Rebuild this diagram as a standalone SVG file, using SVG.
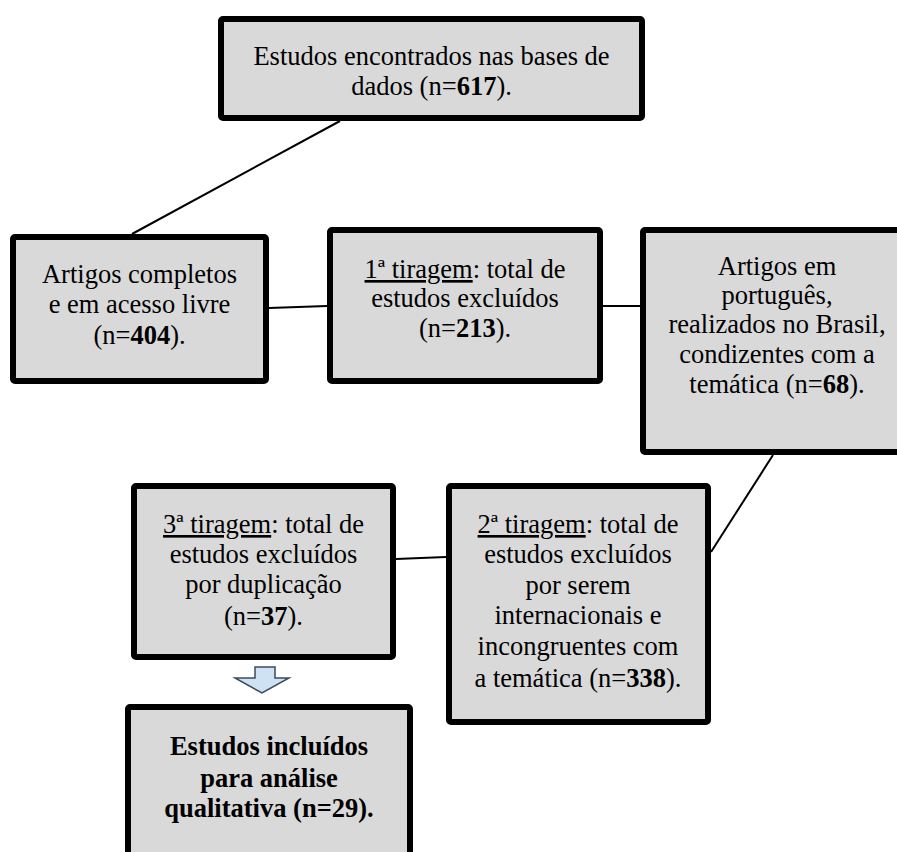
<svg xmlns="http://www.w3.org/2000/svg" width="897" height="852" viewBox="0 0 897 852">
<style>
.box{fill:#d9d9d9;stroke:#000;stroke-width:6;}
.t{font-family:"Liberation Serif","Times New Roman",serif;font-size:26.5px;fill:#000;text-anchor:middle;}
.b{font-weight:bold;}
.u{text-decoration:underline;}
.c{stroke:#000;stroke-width:2;fill:none;}
</style>
<rect width="897" height="852" fill="#fff"/>
<g id="connectors">
<line class="c" x1="340" y1="121" x2="132" y2="234"/>
<line class="c" x1="269" y1="308" x2="327" y2="306"/>
<line class="c" x1="603" y1="306" x2="640" y2="306"/>
<line class="c" x1="773" y1="455" x2="711" y2="552"/>
<line class="c" x1="396" y1="559" x2="446" y2="557"/>
<polygon points="255,667 275,667 275,678 289,678 262,693 235,678 255,678" fill="#cfe2f3" stroke="#3b4b5b" stroke-width="1.5"/>
</g>
<g id="n1">
<rect class="box" x="221" y="19" width="421" height="99" rx="2"/>
<text class="t" x="431.5" y="65">Estudos encontrados nas bases de</text>
<text class="t" x="431.5" y="95">dados (n=<tspan class="b">617</tspan>).</text>
</g>
<g id="n2">
<rect class="box" x="13" y="237" width="253" height="144" rx="2"/>
<text class="t" x="139.5" y="283">Artigos completos</text>
<text class="t" x="139.5" y="313">e em acesso livre</text>
<text class="t" x="139.5" y="344">(n=<tspan class="b">404</tspan>).</text>
</g>
<g id="n3">
<rect class="box" x="330" y="230" width="270" height="151" rx="2"/>
<text class="t" x="465" y="278"><tspan class="u">1ª tiragem</tspan>: total de</text>
<text class="t" x="465" y="307">estudos excluídos</text>
<text class="t" x="465" y="337">(n=<tspan class="b">213</tspan>).</text>
</g>
<g id="n4">
<rect class="box" x="643" y="230" width="270" height="222" rx="2"/>
<text class="t" x="777" y="275">Artigos em</text>
<text class="t" x="777" y="304">português,</text>
<text class="t" x="777" y="333">realizados no Brasil,</text>
<text class="t" x="777" y="363">condizentes com a</text>
<text class="t" x="777" y="393">temática (n=<tspan class="b">68</tspan>).</text>
</g>
<g id="n5">
<rect class="box" x="449" y="486" width="259" height="236" rx="2"/>
<text class="t" x="578" y="533"><tspan class="u">2ª tiragem</tspan>: total de</text>
<text class="t" x="578" y="563">estudos excluídos</text>
<text class="t" x="578" y="594">por serem</text>
<text class="t" x="578" y="624">internacionais e</text>
<text class="t" x="578" y="655">incongruentes com</text>
<text class="t" x="578" y="687">a temática (n=<tspan class="b">338</tspan>).</text>
</g>
<g id="n6">
<rect class="box" x="134" y="486" width="259" height="171" rx="2"/>
<text class="t" x="263.5" y="533"><tspan class="u">3ª tiragem</tspan>: total de</text>
<text class="t" x="263.5" y="563">estudos excluídos</text>
<text class="t" x="263.5" y="593">por duplicação</text>
<text class="t" x="263.5" y="625">(n=<tspan class="b">37</tspan>).</text>
</g>
<g id="n7">
<rect class="box" x="128" y="707" width="282" height="200" rx="2"/>
<text class="t b" x="269" y="755">Estudos incluídos</text>
<text class="t b" x="269" y="787">para análise</text>
<text class="t b" x="269" y="817">qualitativa (n=29).</text>
</g>
</svg>
